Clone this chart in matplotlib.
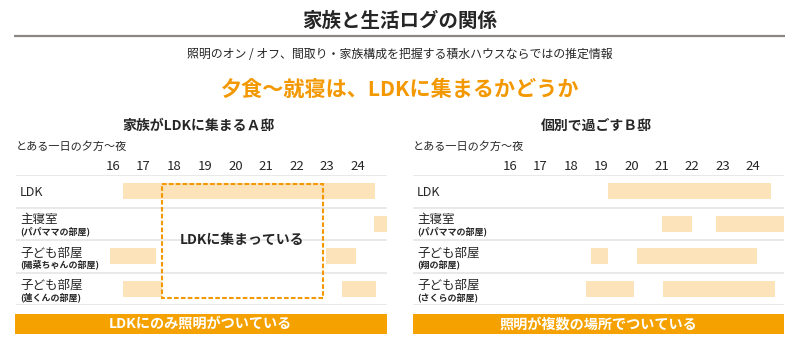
import matplotlib
matplotlib.use("Agg")
import matplotlib.pyplot as plt
from matplotlib.patches import Rectangle

plt.rcParams['font.family'] = ['Noto Sans CJK JP', 'DejaVu Sans']

# ---- data ----
hours = [16, 17, 18, 19, 20, 21, 22, 23, 24]
hour_labels = [str(h) for h in hours]

rooms = ["LDK", "主寝室", "子ども部屋", "子ども部屋"]
subs_a = ["", "(パパママの部屋)", "(陽菜ちゃんの部屋)", "(蓮くんの部屋)"]
subs_b = ["", "(パパママの部屋)", "(翔の部屋)", "(さくらの部屋)"]

# lights-on intervals (start hour, end hour) per room
a_start = [[16.35], [24.52], [15.9, 22.95], [16.35, 23.47]]
a_end = [[24.55], [25.0], [17.42, 23.95], [17.6, 24.6]]
b_start = [[19.24], [21.02, 22.8], [18.66, 20.18], [18.5, 21.05]]
b_end = [[24.6], [22.0, 25.1], [19.24, 24.15], [20.09, 24.73]]

# period where family gathers in LDK (A house)
gather_start, gather_end = 17.6, 22.87

title = "家族と生活ログの関係"
subtitle = "照明のオン / オフ、間取り・家族構成を把握する積水ハウスならではの推定情報"
headline = "夕食～就寝は、LDKに集まるかどうか"
title_a = "家族がLDKに集まるＡ邸"
title_b = "個別で過ごすＢ邸"
axis_note = "とある一日の夕方～夜"
box_text = "LDKに集まっている"
band_a = "LDKにのみ照明がついている"
band_b = "照明が複数の場所でついている"

# ---- style ----
BAR = "#FDE3BA"
ORANGE = "#F5A200"
DASH = "#F39800"
GRID = "#E3E3E3"
DARK = "#262626"

W, H = 800, 353
fig = plt.figure(figsize=(W / 100, H / 100), dpi=100)

# overlay axes in pixel coordinates for text/decoration
ov = fig.add_axes([0, 0, 1, 1])
ov.set_xlim(0, W)
ov.set_ylim(H, 0)
ov.axis("off")

ov.text(400, 21, title, ha="center", va="center", fontsize=14, fontweight="bold", color=DARK)
ov.plot([14, 785], [36, 36], color="#8C8782", lw=1.6, solid_capstyle="butt")
ov.text(400, 55, subtitle, ha="center", va="center", fontsize=8.6, color=DARK)
ov.text(400, 89, headline, ha="center", va="center", fontsize=15.2, fontweight="bold", color=DASH)

panels = [
    dict(x0=16, x1=386.7, xlim=(12.846, 24.937), label_x=20, band_x0=14.7,
         title=title_a, title_x=199, note_x=16, subs=subs_a, starts=a_start, ends=a_end,
         band=band_a, band_tx=200),
    dict(x0=412.7, x1=784, xlim=(12.793, 25.03), label_x=417, band_x0=412.7,
         title=title_b, title_x=596, note_x=412.7, subs=subs_b, starts=b_start, ends=b_end,
         band=band_b, band_tx=598),
]

top_px, bot_px = 175, 305.3
row_px = (bot_px - top_px) / 4

for i, p in enumerate(panels):
    ax = fig.add_axes([p["x0"] / W, (H - bot_px) / H, (p["x1"] - p["x0"]) / W, (bot_px - top_px) / H])
    ax.set_xlim(*p["xlim"])
    ax.set_ylim(4, 0)
    ax.patch.set_alpha(0)
    for s in ax.spines.values():
        s.set_visible(False)
    ax.set_yticks([])
    ax.xaxis.tick_top()
    ax.set_xticks(hours)
    ax.set_xticklabels(hour_labels, fontsize=9.5, color=DARK)
    ax.tick_params(axis="x", length=0, pad=1.5)
    for y in range(5):
        ax.axhline(y, color=GRID, lw=1.1, zorder=1)
    for r, (ss, ee) in enumerate(zip(p["starts"], p["ends"])):
        ax.barh([r + 0.5] * len(ss), [e - s for s, e in zip(ss, ee)], left=ss,
                height=0.49, color=BAR, zorder=2)
    if i == 0:
        y0 = (184 - top_px) / row_px
        y1 = (297.7 - top_px) / row_px
        ax.add_patch(Rectangle((gather_start, y0), gather_end - gather_start, y1 - y0,
                               fill=False, edgecolor=DASH, lw=1.5, linestyle=(0, (2.2, 1.1)),
                               zorder=3, clip_on=False))
        ax.text(20.23, (240 - top_px) / row_px, box_text, ha="center", va="center",
                fontsize=10, fontweight="bold", color=DARK, zorder=4)

    ov.text(p["title_x"], 126, p["title"], ha="center", va="center", fontsize=10,
            fontweight="bold", color=DARK)
    ov.text(p["note_x"], 147, axis_note, ha="left", va="center", fontsize=8, color=DARK)

    lx = p["label_x"]
    ov.text(lx, 192, rooms[0], ha="left", va="center", fontsize=9, color=DARK)
    main_y = [219, 252.7, 285.3]
    sub_y = [231.7, 264.4, 297.7]
    for r in range(1, 4):
        ov.text(lx, main_y[r - 1], rooms[r], ha="left", va="center", fontsize=9, color=DARK)
        ov.text(lx, sub_y[r - 1], p["subs"][r], ha="left", va="center", fontsize=6.5,
                fontweight="bold", color=DARK)

    ov.add_patch(Rectangle((p["band_x0"], 314), p["x1"] - p["band_x0"], 20,
                           facecolor=ORANGE, edgecolor="none"))
    ov.text(p["band_tx"], 324, p["band"], ha="center", va="center", fontsize=10.2,
            fontweight="bold", color="white")

fig.savefig("out.png", dpi=100)
